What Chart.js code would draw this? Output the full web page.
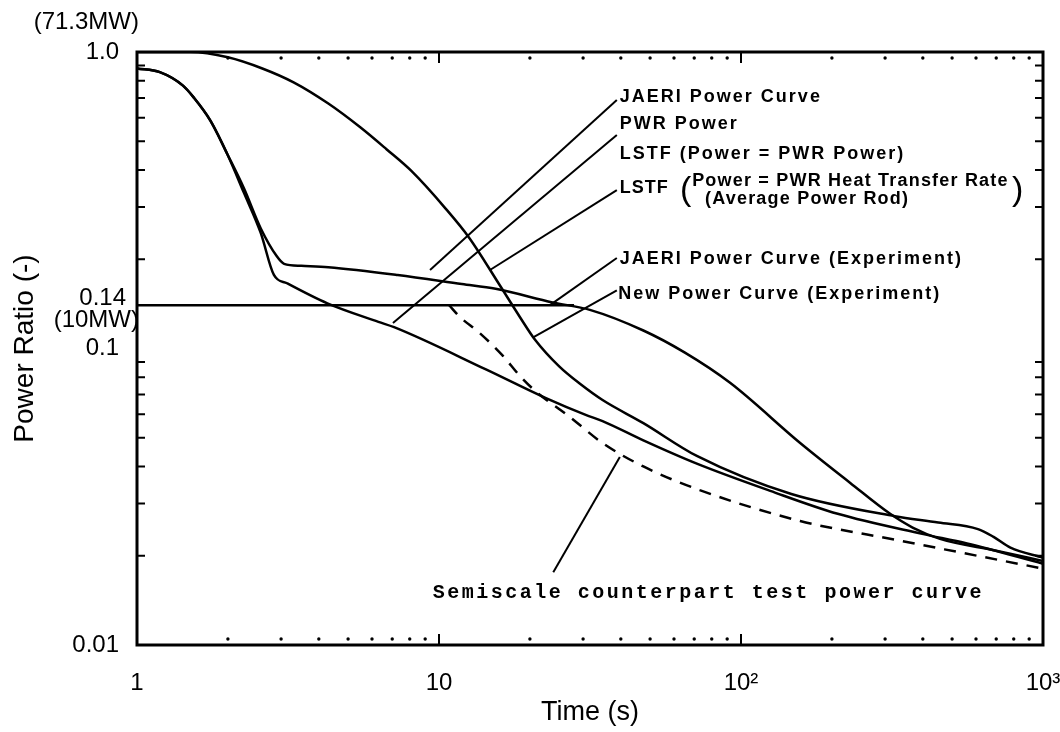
<!DOCTYPE html>
<html>
<head>
<meta charset="utf-8">
<script src="https://cdn.jsdelivr.net/npm/chart.js@4.4.0/dist/chart.umd.min.js"></script>
<style>
  html, body { margin: 0; padding: 0; background: #fff; }
  canvas { display: block; }
</style>
</head>
<body>
<canvas id="chart" width="1060" height="732"></canvas>
<script>
// values: time (s) and power ratio (-)
const lstfHeatTime  = [1, 1.5, 2, 2.6, 3.3, 4.3, 5.5, 6.7, 8.1, 10.5, 12.6, 15.8, 18.5, 20.8, 25, 29.3, 34.8, 47.5, 71.4, 146.8, 323, 450, 609, 684, 780, 1000];
const lstfHeatRatio = [1.0, 1.0, 0.96, 0.88, 0.79, 0.67, 0.556, 0.47, 0.397, 0.297, 0.236, 0.165, 0.128, 0.107, 0.087, 0.076, 0.067, 0.056, 0.0434, 0.0323, 0.0272, 0.0259, 0.0246, 0.0232, 0.0213, 0.0197];

const jaeriTime  = [1, 1.19, 1.42, 1.54, 1.75, 1.99, 2.26, 2.57, 2.9, 3.07, 3.5, 4.3, 7.3, 11.9, 15.4, 23.8, 31.6, 47.5, 65, 92, 157, 230, 310, 370, 456, 700, 1000];
const jaeriRatio = [0.88, 0.855, 0.77, 0.703, 0.587, 0.453, 0.347, 0.254, 0.205, 0.193, 0.19, 0.188, 0.177, 0.165, 0.159, 0.143, 0.135, 0.115, 0.097, 0.0766, 0.048, 0.0352, 0.0278, 0.0249, 0.0228, 0.0208, 0.0192];

const pwrTime  = [1, 1.19, 1.42, 1.54, 1.75, 1.99, 2.26, 2.57, 2.84, 3.14, 4.27, 6.3, 7.1, 14.3, 22.6, 30.6, 34.8, 47.5, 71.4, 125, 209, 398, 560, 1000];
const pwrRatio = [0.88, 0.855, 0.77, 0.703, 0.587, 0.453, 0.335, 0.245, 0.177, 0.166, 0.142, 0.123, 0.118, 0.085, 0.068, 0.0597, 0.0569, 0.049, 0.0409, 0.0331, 0.0277, 0.0237, 0.022, 0.0188];

// 10 MW limit of the test facility
const capTime  = [1, 28];
const capRatio = [0.14, 0.14];

const semiscaleTime  = [10.8, 11.7, 13.6, 16.2, 18.5, 20.8, 27, 34.8, 47.5, 73, 157, 335, 1000];
const semiscaleRatio = [0.14, 0.128, 0.113, 0.095, 0.081, 0.072, 0.059, 0.048, 0.040, 0.0333, 0.0262, 0.0225, 0.0181];

const xTickValues = [1, 10, 100, 1000];
const xTickLabels = ['1', '10', '10²', '10³'];
const yTickValues = [0.01, 0.1, 1];
const yTickLabels = ['0.01', '0.1', '1.0'];

const minorX = [2, 3, 4, 5, 6, 7, 8, 9, 20, 30, 40, 50, 60, 70, 80, 90, 200, 300, 400, 500, 600, 700, 800, 900];
const minorY = [0.02, 0.03, 0.04, 0.05, 0.06, 0.07, 0.08, 0.09, 0.2, 0.3, 0.4, 0.5, 0.6, 0.7, 0.8, 0.9];

// leader lines from the notes to the curves (time, ratio at each end)
const leaders = [
  [38.8, 0.689, 9.34, 0.184],
  [38.8, 0.525, 7.04, 0.122],
  [38.8, 0.342, 14.75, 0.184],
  [38.8, 0.202, 23.3, 0.14],
  [38.8, 0.157, 20.5, 0.109],
  [39.7, 0.0431, 23.9, 0.0176]
];

const noteFont = 'bold 18px "Liberation Sans", Arial, sans-serif';
const parenFont = '34px "Liberation Sans", Arial, sans-serif';
const monoFont = 'bold 20px "Liberation Mono", "DejaVu Sans Mono", monospace';
const labelFont = '24px "Liberation Sans", Arial, sans-serif';

const notes = [
  { text: 'JAERI Power Curve', t: 39.7, p: 0.705, font: noteFont, spacing: '2px' },
  { text: 'PWR Power', t: 39.7, p: 0.572, font: noteFont, spacing: '2px' },
  { text: 'LSTF (Power = PWR Power)', t: 39.7, p: 0.453, font: noteFont, spacing: '2px' },
  { text: 'LSTF', t: 39.7, p: 0.348, font: noteFont, spacing: '1px' },
  { text: '(', t: 62.8, p: 0.342, font: parenFont },
  { text: 'Power = PWR Heat Transfer Rate', t: 68.9, p: 0.366, font: noteFont, spacing: '1.2px' },
  { text: '(Average Power Rod)', t: 76, p: 0.320, font: noteFont, spacing: '1.2px' },
  { text: ')', t: 790, p: 0.342, font: parenFont },
  { text: 'JAERI Power Curve (Experiment)', t: 39.7, p: 0.200, font: noteFont, spacing: '2px' },
  { text: 'New Power Curve (Experiment)', t: 39.2, p: 0.153, font: noteFont, spacing: '2px' },
  { text: 'Semiscale counterpart test power curve', t: 9.54, p: 0.01497, font: monoFont, spacing: '2.5px' }
];

function pts(ts, ps) {
  return ts.map((t, i) => ({ x: t, y: ps[i] }));
}

function curve(ts, ps, dash) {
  return {
    data: pts(ts, ps),
    borderColor: '#000',
    borderWidth: 2.5,
    borderDash: dash || [],
    pointRadius: 0,
    fill: false,
    cubicInterpolationMode: 'monotone'
  };
}

const datasets = leaders.map(l => ({
  data: [{ x: l[0], y: l[1] }, { x: l[2], y: l[3] }],
  borderColor: '#000',
  borderWidth: 2,
  pointRadius: 0,
  fill: false,
  tension: 0
}));
datasets.push(curve(lstfHeatTime, lstfHeatRatio));
datasets.push(curve(jaeriTime, jaeriRatio));
datasets.push(curve(pwrTime, pwrRatio));
datasets.push(curve(capTime, capRatio));
datasets.push(curve(semiscaleTime, semiscaleRatio, [12, 9]));

// frame, tick marks, notes
const decor = {
  id: 'decor',
  afterDatasetsDraw(chart) {
    const { ctx, chartArea: a, scales: { x, y } } = chart;
    ctx.save();
    ctx.strokeStyle = '#000';
    ctx.fillStyle = '#000';

    ctx.lineWidth = 3;
    ctx.strokeRect(a.left, a.top, a.right - a.left, a.bottom - a.top);

    ctx.lineWidth = 2;
    minorY.forEach(v => {
      const py = y.getPixelForValue(v);
      ctx.beginPath();
      ctx.moveTo(a.left, py);
      ctx.lineTo(a.left + 8, py);
      ctx.moveTo(a.right, py);
      ctx.lineTo(a.right - 8, py);
      ctx.stroke();
    });
    minorX.forEach(v => {
      const px = x.getPixelForValue(v);
      ctx.beginPath();
      ctx.arc(px, a.top + 6, 1.7, 0, Math.PI * 2);
      ctx.fill();
      ctx.beginPath();
      ctx.arc(px, a.bottom - 6, 1.7, 0, Math.PI * 2);
      ctx.fill();
    });
    [10, 100].forEach(v => {
      const px = x.getPixelForValue(v);
      ctx.beginPath();
      ctx.moveTo(px, a.bottom);
      ctx.lineTo(px, a.bottom - 11);
      ctx.moveTo(px, a.top);
      ctx.lineTo(px, a.top + 11);
      ctx.stroke();
    });

    // 0.14 ratio and the power in MW next to the ratio axis
    const cap = y.getPixelForValue(0.14);
    ctx.font = labelFont;
    ctx.textAlign = 'right';
    ctx.textBaseline = 'middle';
    ctx.fillText('(71.3MW)', a.left + 2, y.getPixelForValue(1) - 30);
    ctx.fillText('0.14', a.left - 11, cap - 7);
    ctx.fillText('(10MW)', a.left + 2, cap + 15);

    ctx.textAlign = 'left';
    notes.forEach(n => {
      ctx.font = n.font;
      ctx.letterSpacing = n.spacing || '0px';
      ctx.fillText(n.text, x.getPixelForValue(n.t), y.getPixelForValue(n.p));
    });
    ctx.restore();
  }
};

const tickFont = { family: '"Liberation Sans", Arial, sans-serif', size: 24 };

new Chart(document.getElementById('chart'), {
  type: 'line',
  data: { datasets: datasets },
  plugins: [decor],
  options: {
    responsive: false,
    animation: false,
    events: [],
    layout: { padding: { top: 52, right: 17, bottom: 0, left: 4 } },
    plugins: { legend: { display: false }, tooltip: { enabled: false } },
    scales: {
      x: {
        type: 'logarithmic',
        min: 1,
        max: 1000,
        grid: { display: false },
        border: { display: false },
        afterBuildTicks: s => { s.ticks = xTickValues.map(v => ({ value: v })); },
        afterFit: s => {
          s.height = 87;
          s.paddingLeft = 0; s.paddingRight = 0;
        },
        ticks: {
          autoSkip: false,
          maxRotation: 0,
          padding: 16,
          color: '#000',
          font: tickFont,
          callback: v => xTickLabels[xTickValues.indexOf(v)]
        },
        title: {
          display: true,
          text: 'Time (s)',
          color: '#000',
          font: { family: '"Liberation Sans", Arial, sans-serif', size: 27 },
          padding: { top: 0, bottom: 3 }
        }
      },
      y: {
        type: 'logarithmic',
        min: 0.01,
        max: 1,
        grid: { display: false },
        border: { display: false },
        afterBuildTicks: s => { s.ticks = yTickValues.map(v => ({ value: v })); },
        afterFit: s => {
          s.width = 133;
          s.paddingTop = 0; s.paddingBottom = 0;
        },
        ticks: {
          autoSkip: false,
          padding: 10,
          color: '#000',
          font: tickFont,
          callback: v => yTickLabels[yTickValues.indexOf(v)]
        },
        title: {
          display: true,
          text: 'Power Ratio (-)',
          color: '#000',
          font: { family: '"Liberation Sans", Arial, sans-serif', size: 28 },
          padding: { top: 4, bottom: 0 }
        }
      }
    }
  }
});
</script>
</body>
</html>
